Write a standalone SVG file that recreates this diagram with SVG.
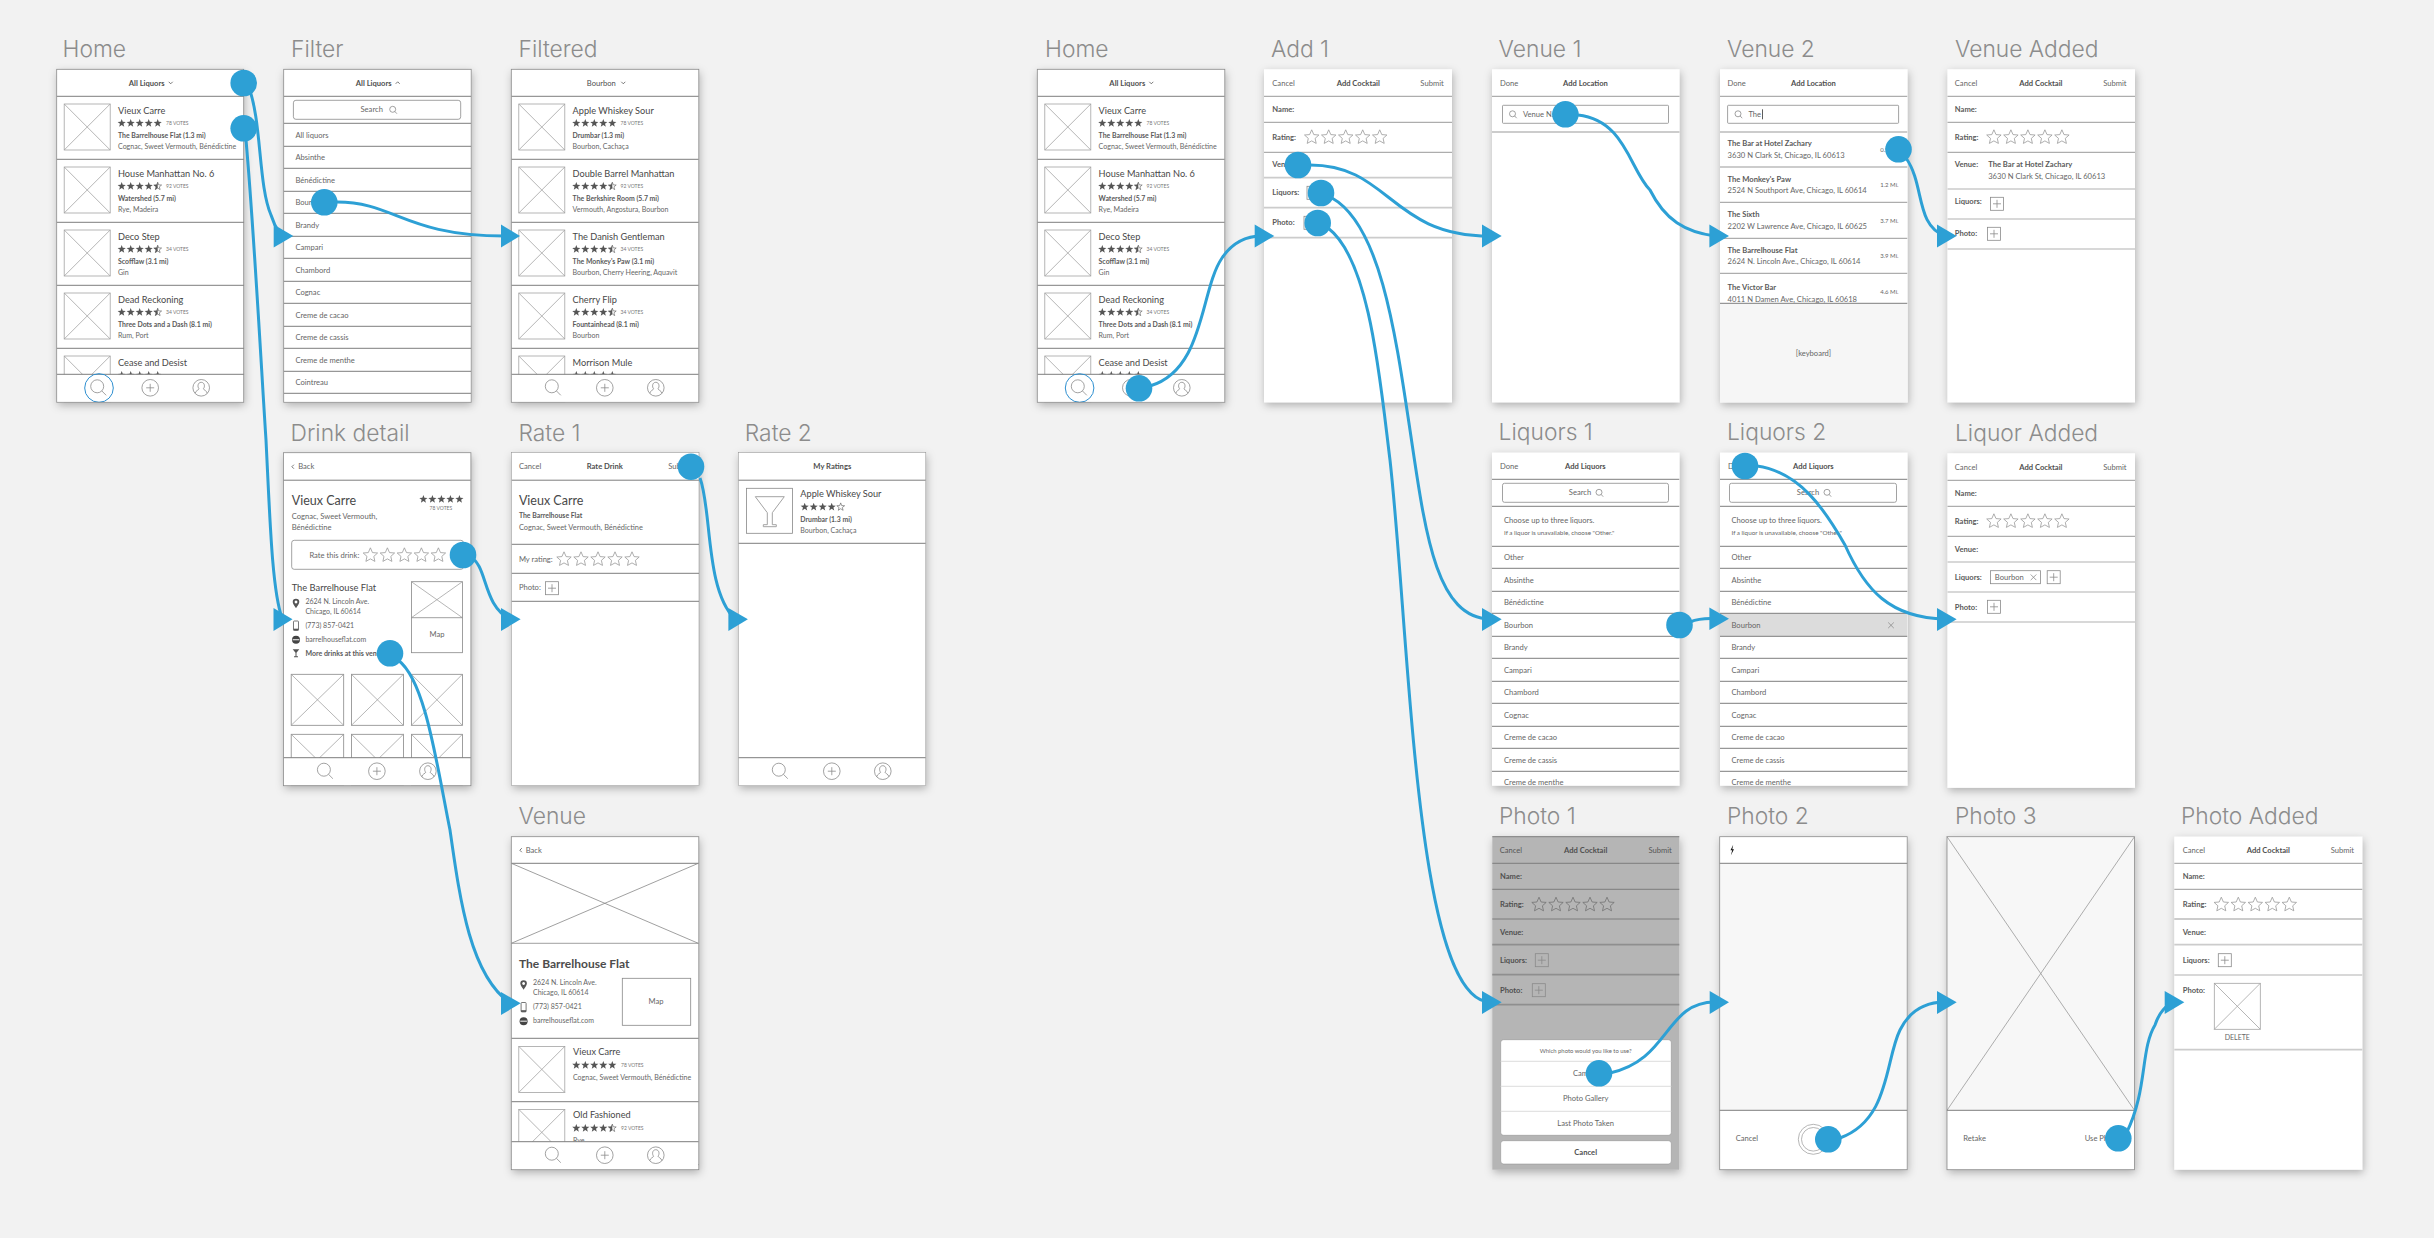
<svg xmlns="http://www.w3.org/2000/svg" width="2434" height="1238" viewBox="0 0 2434 1238">
<style>
text{font-family:"Lato","Liberation Sans",sans-serif;fill:#666;font-size:7.6px}
.T{font-family:"Inter","Liberation Sans",sans-serif;font-weight:300;font-size:22.8px;fill:#8c8c8c}
.h{font-size:9.2px;fill:#484848}
.hl{font-size:12.5px;fill:#484848}
.b{font-weight:700;fill:#5a5a5a}
.r{font-weight:700;fill:#5a5a5a;font-size:6.9px}
.c{font-size:7.05px}
.v{font-size:5px;fill:#777}
.m{text-anchor:middle}
.e{text-anchor:end}
.n{font-weight:700;fill:#4f4f4f;text-anchor:middle}
.a{font-size:7px}
.d{font-size:6px;text-anchor:end}
.l{stroke:#7d7d7d;stroke-width:1;fill:none}
.f{stroke:#999;stroke-width:1;fill:none}
.k{stroke:#ccc;stroke-width:1.7;fill:none}
.g{stroke:#a3a3a3;stroke-width:.8;fill:none}
.gd{stroke:#888;stroke-width:.8;fill:none}
.i{stroke:#8a8a8a;stroke-width:.8;fill:none}
.chev{stroke:#555;stroke-width:.8;fill:none}
.sc{fill:#fff;filter:url(#sh)}
.bd{fill:none;stroke:#8a8a8a;stroke-width:.8}
#conn path{fill:none;stroke:#2da0d5;stroke-width:3}
#conn circle,#conn polygon{fill:#2da0d5}
</style>
<defs>
<filter id="sh" x="-10%" y="-10%" width="120%" height="120%"><feDropShadow dx="1" dy="3" stdDeviation="4" flood-color="#000" flood-opacity=".28"/></filter>
<clipPath id="cp"><rect width="187.5" height="333.5"/></clipPath>
<g id="ph"><rect class="g" width="46" height="46"/><path class="g" d="M0 0L46 46M46 0L0 46"/></g>
<polygon id="s" fill="#555" points="0,-4.3 1.06,-1.46 4.09,-1.33 1.72,.56 2.53,3.48 0,1.81 -2.53,3.48 -1.72,.56 -4.09,-1.33 -1.06,-1.46"/>
<polygon id="so" fill="none" stroke="#555" stroke-width=".6" points="0,-4.1 1,-1.4 3.9,-1.27 1.64,.53 2.41,3.3 0,1.72 -2.41,3.3 -1.64,.53 -3.9,-1.27 -1,-1.4"/>
<path id="sh2" fill="#555" d="M0-4.3V1.81L-2.53 3.48-1.72.56-4.09-1.33-1.06-1.46Z"/>
<g id="st5"><use href="#s"/><use href="#s" x="9"/><use href="#s" x="18"/><use href="#s" x="27"/><use href="#s" x="36"/></g>
<g id="st45"><use href="#s"/><use href="#s" x="9"/><use href="#s" x="18"/><use href="#s" x="27"/><use href="#so" x="36"/><use href="#sh2" x="36"/></g>
<polygon id="hs" fill="none" stroke-width=".8" points="0,-7.5 2.1,-2.7 7.2,-2.3 3.4,1.1 4.5,6.1 0,3.6 -4.5,6.1 -3.4,1.1 -7.2,-2.3 -2.1,-2.7"/>
<g id="hs5" stroke="#999"><use href="#hs"/><use href="#hs" x="17"/><use href="#hs" x="34"/><use href="#hs" x="51"/><use href="#hs" x="68"/></g>
<g id="hs5d" stroke="#727272"><use href="#hs"/><use href="#hs" x="17"/><use href="#hs" x="34"/><use href="#hs" x="51"/><use href="#hs" x="68"/></g>
<g id="r"><use href="#ph" x="7.5" y="7.7"/><path class="l" d="M0 63H187.5"/></g>
<g id="ms"><circle class="i" r="6.5"/><path class="i" d="M4.6 4.6L9 9"/></g>
<g id="ms2"><circle class="i" r="3"/><path class="i" d="M2.1 2.1L4.2 4.4"/></g>
<g id="mp"><circle class="i" r="8.3"/><path class="i" d="M-4 0H4M0-4V4"/></g>
<g id="mu"><circle class="i" r="8.3"/><path class="i" d="M-6 5.5C-5.5 2.5-2.5 2.5-2.2 1C-4-1-3.5-5.5 0-5.5S4-1 2.2 1C2.5 2.5 5.5 2.5 6 5.5"/></g>
<g id="tab"><rect y="305" width="187" height="28" fill="#fff"/><path class="l" d="M0 305H187.5"/><use href="#ms" x="40.5" y="317"/><use href="#mp" x="93.5" y="318.5"/><use href="#mu" x="144.5" y="318.5"/></g>
<g id="pb"><rect class="i" width="13" height="13"/><path class="i" d="M2.5 6.5H10.5M6.5 2.5V10.5"/></g>
<path id="pin" fill="#555" fill-rule="evenodd" d="M0-4.5A3.3 3.3 0 0 1 3.3-1.2C3.3 1 1 3 0 5C-1 3-3.300 1-3.300-1.200A3.300 3.300 0 0 1 0-4.500ZM0-2.600A1.400 1.400 0 1 0 .01-2.600Z"/>
<g id="phn"><rect x="-2.5" y="-4.7" width="5" height="9.4" rx=".8" fill="none" stroke="#555" stroke-width=".8"/><rect x="-2.5" y="3" width="5" height="1.7" fill="#555"/></g>
<g id="glb"><circle r="4" fill="#444"/><rect x="-3.3" y="-.6" width="6.6" height="1.2" fill="#ddd"/></g>
<path id="gls" fill="#555" d="M-3.3-4H3.3L.5-.5V3H2V4H-2V3H-.5V-.5Z"/>
<path id="dn" class="chev" d="M0 0L2 2 4 0"/>
<path id="xx" class="i" d="M-2.8-2.8L2.8 2.8M2.8-2.8L-2.8 2.8"/>
</defs>
<rect width="2434" height="1238" fill="#f2f2f2"/>

<g id="home-1"><text class="T" x="62.5" y="56.5">Home</text><g transform="translate(56.7,69.3)"><rect class="sc" width="187" height="333"/><g clip-path="url(#cp)">
<text class="n" x="90" y="16.5">All Liquors</text><use href="#dn" x="112" y="12.5"/><path class="l" d="M0 27H187.5"/>
<g transform="translate(0,27)"><use href="#r"/><text class="h" x="61.3" y="17.7">Vieux Carre</text><use href="#st5" x="65" y="27"/><text class="v" x="109.3" y="28.6">78 VOTES</text><text class="r" x="61.3" y="42">The Barrelhouse Flat (1.3 mi)</text><text class="c" x="61.3" y="53">Cognac, Sweet Vermouth, Bénédictine</text></g>
<g transform="translate(0,90)"><use href="#r"/><text class="h" x="61.3" y="17.7">House Manhattan No. 6</text><use href="#st45" x="65" y="27"/><text class="v" x="109.3" y="28.6">92 VOTES</text><text class="r" x="61.3" y="42">Watershed (5.7 mi)</text><text class="c" x="61.3" y="53">Rye, Madeira</text></g>
<g transform="translate(0,153)"><use href="#r"/><text class="h" x="61.3" y="17.7">Deco Step</text><use href="#st45" x="65" y="27"/><text class="v" x="109.3" y="28.6">34 VOTES</text><text class="r" x="61.3" y="42">Scofflaw (3.1 mi)</text><text class="c" x="61.3" y="53">Gin</text></g>
<g transform="translate(0,216)"><use href="#r"/><text class="h" x="61.3" y="17.7">Dead Reckoning</text><use href="#st45" x="65" y="27"/><text class="v" x="109.3" y="28.6">34 VOTES</text><text class="r" x="61.3" y="42">Three Dots and a Dash (8.1 mi)</text><text class="c" x="61.3" y="53">Rum, Port</text></g>
<g transform="translate(0,279)"><use href="#r"/><text class="h" x="61.3" y="17.7">Cease and Desist</text><use href="#st5" x="65" y="27"/></g>
<use href="#tab"/><circle cx="42.3" cy="318.7" r="14.3" fill="none" stroke="#2d8fd0" stroke-width="1"/></g><rect class="bd" width="187" height="333"/></g></g>

<g id="filter"><text class="T" x="291" y="56.5">Filter</text><g transform="translate(283.7,69.3)"><rect class="sc" width="187.5" height="333"/><g clip-path="url(#cp)">
<text class="n" x="90" y="16.5">All Liquors</text><path class="chev" d="M112 14.5L114 12.5 116 14.5"/><path class="l" d="M0 27H187.5M0 54H187.5M0 77H187.5M0 99H187.5M0 122H187.5M0 144H187.5M0 167H187.5M0 189H187.5M0 212H187.5M0 234H187.5M0 257H187.5M0 279H187.5M0 302H187.5M0 324H187.5"/>
<rect class="i" x="9.7" y="31" width="167.3" height="19" rx="2.5"/><text class="m" x="88" y="43">Search</text><use href="#ms2" x="109" y="40"/>
<text x="11.7" y="68.4">All liquors</text><text x="11.7" y="90.9">Absinthe</text><text x="11.7" y="113.4">Bénédictine</text><text x="11.7" y="135.9">Bourbon</text><text x="11.7" y="158.4">Brandy</text><text x="11.7" y="180.9">Campari</text><text x="11.7" y="203.4">Chambord</text><text x="11.7" y="225.9">Cognac</text><text x="11.7" y="248.4">Creme de cacao</text><text x="11.7" y="270.9">Creme de cassis</text><text x="11.7" y="293.4">Creme de menthe</text><text x="11.7" y="315.9">Cointreau</text>
</g><rect class="bd" width="187.5" height="333"/></g></g>

<g id="filtered"><text class="T" x="518.5" y="56.5">Filtered</text><g transform="translate(511.3,69.3)"><rect class="sc" width="187.5" height="333"/><g clip-path="url(#cp)">
<text class="n" x="90" y="16.5" style="font-weight:400">Bourbon</text><use href="#dn" x="110" y="12.5"/><path class="l" d="M0 27H187.5"/>
<g transform="translate(0,27)"><use href="#r"/><text class="h" x="61.3" y="17.7">Apple Whiskey Sour</text><use href="#st5" x="65" y="27"/><text class="v" x="109.3" y="28.6">78 VOTES</text><text class="r" x="61.3" y="42">Drumbar (1.3 mi)</text><text class="c" x="61.3" y="53">Bourbon, Cachaça</text></g>
<g transform="translate(0,90)"><use href="#r"/><text class="h" x="61.3" y="17.7">Double Barrel Manhattan</text><use href="#st45" x="65" y="27"/><text class="v" x="109.3" y="28.6">92 VOTES</text><text class="r" x="61.3" y="42">The Berkshire Room (5.7 mi)</text><text class="c" x="61.3" y="53">Vermouth, Angostura, Bourbon</text></g>
<g transform="translate(0,153)"><use href="#r"/><text class="h" x="61.3" y="17.7">The Danish Gentleman</text><use href="#st45" x="65" y="27"/><text class="v" x="109.3" y="28.6">34 VOTES</text><text class="r" x="61.3" y="42">The Monkey's Paw (3.1 mi)</text><text class="c" x="61.3" y="53">Bourbon, Cherry Heering, Aquavit</text></g>
<g transform="translate(0,216)"><use href="#r"/><text class="h" x="61.3" y="17.7">Cherry Flip</text><use href="#st45" x="65" y="27"/><text class="v" x="109.3" y="28.6">34 VOTES</text><text class="r" x="61.3" y="42">Fountainhead (8.1 mi)</text><text class="c" x="61.3" y="53">Bourbon</text></g>
<g transform="translate(0,279)"><use href="#r"/><text class="h" x="61.3" y="17.7">Morrison Mule</text><use href="#st5" x="65" y="27"/></g>
<use href="#tab"/></g><rect class="bd" width="187.5" height="333"/></g></g>

<g id="drink-detail"><text class="T" x="290.5" y="440.5">Drink detail</text><g transform="translate(283.4,452.7)"><rect class="sc" width="187.5" height="333"/><g clip-path="url(#cp)">
<path class="chev" d="M10.5 12L8.500 14 10.500 16"/><text x="14.8" y="16.6">Back</text><path class="l" d="M0 27.5H187.5"/>
<text class="hl" x="8.3" y="52.3">Vieux Carre</text><use href="#st5" x="140" y="46.6"/><text class="v m" x="157.5" y="57.7">78 VOTES</text>
<text class="c" x="8.3" y="66" style="font-size:7.6px">Cognac, Sweet Vermouth,</text><text x="8.3" y="77">Bénédictine</text>
<rect class="i" x="8.3" y="87.6" width="171.7" height="29" rx="2.5"/><text x="26" y="105">Rate this drink:</text><use href="#hs5" x="87" y="102.6"/>
<text style="font-size:9.3px;fill:#484848" x="8.3" y="138.3">The Barrelhouse Flat</text>
<use href="#pin" x="12.6" y="150.5"/><text class="a" x="22" y="151">2624 N. Lincoln Ave.</text><text class="a" x="22" y="161">Chicago, IL 60614</text>
<use href="#phn" x="12.6" y="173"/><text class="a" x="22" y="175">(773) 857-0421</text>
<use href="#glb" x="12.6" y="187"/><text class="a" x="22" y="189">barrelhouseflat.com</text>
<use href="#gls" x="12.6" y="200.6"/><text class="b a" x="22" y="203">More drinks at this venue</text>
<rect class="gd" x="128" y="129" width="51" height="71"/><path class="g" d="M128 129L179 165M179 129L128 165"/><path class="gd" d="M128 165H179"/><text class="m" x="153.6" y="184.6">Map</text>
<g id="dg"><rect class="gd" x="7.8" y="221.6" width="52.5" height="51"/><path class="g" d="M7.8 221.6L60.3 272.6M60.3 221.600L7.800 272.600"/><rect class="gd" x="68" y="221.6" width="52" height="51"/><path class="g" d="M68 221.6L120 272.6M120 221.6L68 272.6"/><rect class="gd" x="128" y="221.6" width="51" height="51"/><path class="g" d="M128 221.6L179 272.6M179 221.6L128 272.600"/></g>
<use href="#dg" y="60"/>
<use href="#tab"/></g><rect class="bd" width="187.5" height="333"/></g></g>

<g id="rate-1"><text class="T" x="518.5" y="440.5">Rate 1</text><g transform="translate(511.5,452.7)"><rect class="sc" width="187.5" height="333"/><g clip-path="url(#cp)">
<text x="7.4" y="16.6">Cancel</text><text class="n" x="93.3" y="16.6">Rate Drink</text><text class="e" x="180" y="16.6">Submit</text><path class="l" d="M0 27.5H187.5"/>
<text class="hl" x="7.4" y="52.3">Vieux Carre</text><text class="r" x="7.4" y="65.6">The Barrelhouse Flat</text><text x="7.4" y="77.6" style="font-size:7.4px">Cognac, Sweet Vermouth, Bénédictine</text><path class="l" d="M0 91.6H187.5M0 120.600H187.5M0 148.600H187.5"/>
<text x="7.4" y="109">My rating:</text><use href="#hs5" x="52.5" y="106.6"/><text x="7.4" y="137.3">Photo:</text><use href="#pb" x="34" y="129"/>
</g><rect class="bd" style="stroke-width:.5" width="187.5" height="333"/></g></g>

<g id="rate-2"><text class="T" x="744.8" y="440.5">Rate 2</text><g transform="translate(738.3,452.7)"><rect class="sc" width="187.5" height="333"/><g clip-path="url(#cp)">
<text class="n" x="94" y="16.6">My Ratings</text><path class="l" d="M0 27.5H187.5M0 90.6H187.5"/>
<rect class="gd" x="8.3" y="35.6" width="46" height="45"/><path class="g" style="stroke-width:1" d="M17 44H46L34 60V72H38V74H25V72H29V60Z"/>
<text class="h" x="62" y="44.3">Apple Whiskey Sour</text><use href="#s" x="66.4" y="54.3"/><use href="#s" x="75.4" y="54.3"/><use href="#s" x="84.4" y="54.3"/><use href="#s" x="93.4" y="54.3"/><use href="#so" x="102.4" y="54.3"/>
<text class="r" x="62" y="69">Drumbar (1.3 mi)</text><text class="c" x="62" y="80">Bourbon, Cachaça</text>
<use href="#tab"/></g><rect class="bd" style="stroke-width:.5" width="187.5" height="333"/></g></g>

<g id="venue"><text class="T" x="518.5" y="824">Venue</text><g transform="translate(511.3,836.7)"><rect class="sc" width="187.5" height="333"/><g clip-path="url(#cp)">
<path class="chev" d="M10.5 11.5L8.5 13.5 10.5 15.5"/><text x="14.4" y="16">Back</text><path class="l" d="M0 26.6H187.5"/>
<path class="gd" d="M0 26.6L187 106.6M187 26.6L0 106.6M0 106.6H187.5"/>
<text style="font-size:12px;font-weight:700;fill:#4c4c4c" x="7.7" y="131">The Barrelhouse Flat</text>
<use href="#pin" x="12.3" y="148"/><text class="a" x="21.7" y="148.6">2624 N. Lincoln Ave.</text><text class="a" x="21.7" y="158.6">Chicago, IL 60614</text>
<use href="#phn" x="12.3" y="170.5"/><text class="a" x="21.7" y="172.6">(773) 857-0421</text>
<use href="#glb" x="12.3" y="184.5"/><text class="a" x="21.7" y="186.6">barrelhouseflat.com</text>
<rect class="gd" x="111" y="141.6" width="68.4" height="47"/><text class="m" x="144.7" y="167">Map</text>
<path class="l" d="M0 201.6H187.5"/>
<g transform="translate(0,202)"><use href="#r"/><text class="h" x="61.7" y="16.5">Vieux Carre</text><use href="#st5" x="65" y="26.5"/><text class="v" x="109.7" y="28">78 VOTES</text><text class="c" x="61.7" y="41">Cognac, Sweet Vermouth, Bénédictine</text></g>
<g transform="translate(0,265)"><use href="#r"/><text class="h" x="61.7" y="16.5">Old Fashioned</text><use href="#st45" x="65" y="26.5"/><text class="v" x="109.7" y="28">92 VOTES</text><text class="c" x="61.7" y="41">Rye</text></g>
<use href="#tab"/></g><rect class="bd" width="187.5" height="333"/></g></g>

<g id="home-2"><text class="T" x="1045" y="56.5">Home</text><g transform="translate(1037.3,69.3)"><rect class="sc" width="187.5" height="333"/><g clip-path="url(#cp)">
<text class="n" x="90" y="16.5">All Liquors</text><use href="#dn" x="112" y="12.5"/><path class="l" d="M0 27H187.5"/>
<g transform="translate(0,27)"><use href="#r"/><text class="h" x="61.3" y="17.7">Vieux Carre</text><use href="#st5" x="65" y="27"/><text class="v" x="109.3" y="28.6">78 VOTES</text><text class="r" x="61.3" y="42">The Barrelhouse Flat (1.3 mi)</text><text class="c" x="61.3" y="53">Cognac, Sweet Vermouth, Bénédictine</text></g>
<g transform="translate(0,90)"><use href="#r"/><text class="h" x="61.3" y="17.7">House Manhattan No. 6</text><use href="#st45" x="65" y="27"/><text class="v" x="109.3" y="28.6">92 VOTES</text><text class="r" x="61.3" y="42">Watershed (5.7 mi)</text><text class="c" x="61.3" y="53">Rye, Madeira</text></g>
<g transform="translate(0,153)"><use href="#r"/><text class="h" x="61.3" y="17.7">Deco Step</text><use href="#st45" x="65" y="27"/><text class="v" x="109.3" y="28.6">34 VOTES</text><text class="r" x="61.3" y="42">Scofflaw (3.1 mi)</text><text class="c" x="61.3" y="53">Gin</text></g>
<g transform="translate(0,216)"><use href="#r"/><text class="h" x="61.3" y="17.7">Dead Reckoning</text><use href="#st45" x="65" y="27"/><text class="v" x="109.3" y="28.6">34 VOTES</text><text class="r" x="61.3" y="42">Three Dots and a Dash (8.1 mi)</text><text class="c" x="61.3" y="53">Rum, Port</text></g>
<g transform="translate(0,279)"><use href="#r"/><text class="h" x="61.3" y="17.7">Cease and Desist</text><use href="#st5" x="65" y="27"/></g>
<use href="#tab"/><circle cx="42.3" cy="318.7" r="14.3" fill="none" stroke="#2d8fd0" stroke-width="1"/></g><rect class="bd" width="187.5" height="333"/></g></g>

<g id="add-1"><text class="T" x="1271" y="56.5">Add 1</text><g transform="translate(1264,69.3)"><rect class="sc" width="188" height="333"/>
<text x="8.3" y="16.4">Cancel</text><text class="n" x="94.3" y="16.4">Add Cocktail</text><text class="e" x="179.7" y="16.4">Submit</text><path class="f" d="M0 27H188M0 53H188M0 83H188"/><path class="k" d="M0 108.4H188M0 138.4H188M0 168.4H188"/>
<text class="b" x="8.3" y="42.7">Name:</text><text class="b" x="8.3" y="70.7">Rating:</text><use href="#hs5" x="47.7" y="68"/><text class="b" x="8.3" y="98">Venue:</text><text class="b" x="8.3" y="126">Liquors:</text><use href="#pb" x="43" y="117"/><text class="b" x="8.3" y="156">Photo:</text><use href="#pb" x="40" y="147"/>
</g></g>

<g id="venue-1"><text class="T" x="1498.6" y="56.5">Venue 1</text><g transform="translate(1492,69.3)"><rect class="sc" width="187.5" height="333"/>
<text x="8" y="16.4">Done</text><text class="n" x="93.4" y="16.4">Add Location</text><path class="f" d="M0 27H187.5"/><rect class="i" x="10.5" y="36" width="166" height="18" rx=".8"/><use href="#ms2" x="20.5" y="44.5"/><text x="31" y="47.7">Venue Name</text><path class="k" style="stroke:#bbb" d="M0 62.7H187.5"/>
</g></g>

<g id="venue-2"><text class="T" x="1727" y="56.5">Venue 2</text><g transform="translate(1720,69.3)"><rect class="sc" width="187.5" height="333"/><g clip-path="url(#cp)">
<text x="7.6" y="16.4">Done</text><text class="n" x="93.4" y="16.4">Add Location</text><path class="f" d="M0 27H187.5"/><rect class="i" x="7.6" y="36" width="171" height="18" rx=".8"/><use href="#ms2" x="18" y="44.5"/><text x="28.4" y="47.7">The</text><path class="i" d="M42.5 40V50" style="stroke:#333"/><path class="f" d="M0 62.7H187.5M0 97.7H187.5M0 133H187.5M0 169H187.5M0 204H187.5"/>
<text class="b" x="7.6" y="77">The Bar at Hotel Zachary</text><text x="7.6" y="88.4">3630 N Clark St, Chicago, IL 60613</text><text class="d" x="178.5" y="82.4">0.7 Mi.</text>
<text class="b" x="7.6" y="112.7">The Monkey's Paw</text><text x="7.6" y="124">2524 N Southport Ave, Chicago, IL 60614</text><text class="d" x="178.5" y="117.7">1.2 Mi.</text>
<text class="b" x="7.6" y="148">The Sixth</text><text x="7.6" y="159.4">2202 W Lawrence Ave, Chicago, IL 60625</text><text class="d" x="178.5" y="153.4">3.7 Mi.</text>
<text class="b" x="7.6" y="183.4">The Barrelhouse Flat</text><text x="7.6" y="195">2624 N. Lincoln Ave., Chicago, IL 60614</text><text class="d" x="178.5" y="189">3.9 Mi.</text>
<text class="b" x="7.6" y="221">The Victor Bar</text><text x="7.6" y="232.4">4011 N Damen Ave, Chicago, IL 60618</text><text class="d" x="178.5" y="224.7">4.6 Mi.</text>
<rect y="234" width="187.5" height="99" fill="#f6f6f6"/><path class="l" d="M0 234H187.5"/><text class="m" x="93.5" y="287">[keyboard]</text>
</g></g></g>

<g id="venue-added"><text class="T" x="1955" y="56.5">Venue Added</text><g transform="translate(1947.5,69.3)"><rect class="sc" width="187.5" height="333"/>
<text x="7.3" y="16.4">Cancel</text><text class="n" x="93.4" y="16.4">Add Cocktail</text><text class="e" x="179" y="16.4">Submit</text><path class="f" d="M0 27H187.5M0 53H187.5M0 83H187.5"/><path class="k" d="M0 119.7H187.5M0 149.7H187.5M0 179.7H187.5"/>
<text class="b" x="7.3" y="42.7">Name:</text><text class="b" x="7.3" y="70.7">Rating:</text><use href="#hs5" x="46.4" y="68"/><text class="b" x="7.3" y="98">Venue:</text><text class="b" x="40.7" y="98">The Bar at Hotel Zachary</text><text x="40.7" y="109.7">3630 N Clark St, Chicago, IL 60613</text><text class="b" x="7.3" y="135">Liquors:</text><use href="#pb" x="43" y="128"/><text class="b" x="7.3" y="167">Photo:</text><use href="#pb" x="40" y="158"/>
</g></g>

<g id="liquors-1"><text class="T" x="1498.6" y="439.5">Liquors 1</text><g transform="translate(1492,452.7)"><rect class="sc" width="187.5" height="333"/><g clip-path="url(#cp)">
<text x="8" y="16">Done</text><text class="n" x="93.4" y="16">Add Liquors</text><rect class="i" x="10.5" y="30.6" width="166" height="19" rx="2"/><text class="m" x="88" y="42.6">Search</text><use href="#ms2" x="107" y="39.6"/>
<path class="l" d="M0 26.6H187.5M0 53.6H187.5M0 93.6H187.5M0 115.6H187.5M0 138.6H187.5M0 160.6H187.5M0 183.6H187.5M0 205.6H187.5M0 228.6H187.5M0 250.6H187.5M0 273.6H187.5M0 295.6H187.5M0 318.6H187.5"/>
<text x="12" y="70.6">Choose up to three liquors.</text><text style="font-size:6.3px" x="12" y="82.6">If a liquor is unavailable, choose "Other."</text>
<text x="12" y="107.6">Other</text><text x="12" y="130.1">Absinthe</text><text x="12" y="152.6">Bénédictine</text><text x="12" y="175.1">Bourbon</text><text x="12" y="197.6">Brandy</text><text x="12" y="220.1">Campari</text><text x="12" y="242.6">Chambord</text><text x="12" y="265.1">Cognac</text><text x="12" y="287.6">Creme de cacao</text><text x="12" y="310.1">Creme de cassis</text><text x="12" y="332.6">Creme de menthe</text>
</g></g></g>

<g id="liquors-2"><text class="T" x="1727" y="439.5">Liquors 2</text><g transform="translate(1720,452.7)"><rect class="sc" width="187.5" height="333"/><g clip-path="url(#cp)">
<text x="8" y="16">Done</text><text class="n" x="93.4" y="16">Add Liquors</text><rect class="i" x="9.5" y="30.6" width="167" height="19" rx="2"/><text class="m" x="88" y="42.6">Search</text><use href="#ms2" x="107" y="39.6"/>
<rect y="160.6" width="187.5" height="23" fill="#dcdcdc"/><use href="#xx" x="171" y="172.6"/>
<path class="l" d="M0 26.6H187.5M0 53.6H187.5M0 93.6H187.5M0 115.6H187.5M0 138.6H187.5M0 160.6H187.5M0 183.6H187.5M0 205.6H187.5M0 228.6H187.5M0 250.6H187.5M0 273.6H187.5M0 295.6H187.5M0 318.6H187.5"/>
<text x="11.5" y="70.6">Choose up to three liquors.</text><text style="font-size:6.3px" x="11.5" y="82.6">If a liquor is unavailable, choose "Other."</text>
<text x="11.5" y="107.6">Other</text><text x="11.5" y="130.1">Absinthe</text><text x="11.5" y="152.6">Bénédictine</text><text x="11.5" y="175.1">Bourbon</text><text x="11.5" y="197.6">Brandy</text><text x="11.5" y="220.1">Campari</text><text x="11.5" y="242.6">Chambord</text><text x="11.5" y="265.1">Cognac</text><text x="11.5" y="287.6">Creme de cacao</text><text x="11.5" y="310.1">Creme de cassis</text><text x="11.5" y="332.6">Creme de menthe</text>
</g></g></g>

<g id="liquor-added"><text class="T" x="1955" y="440.5">Liquor Added</text><g transform="translate(1947.5,453.3)"><rect class="sc" width="187.5" height="334.5"/>
<text x="7.3" y="16.4">Cancel</text><text class="n" x="93.4" y="16.4">Add Cocktail</text><text class="e" x="179" y="16.4">Submit</text><path class="f" d="M0 27H187.5M0 53H187.5M0 83H187.5"/><path class="k" d="M0 108.7H187.5M0 138.7H187.5M0 168.7H187.5"/>
<text class="b" x="7.3" y="43">Name:</text><text class="b" x="7.3" y="71">Rating:</text><use href="#hs5" x="46.4" y="68"/><text class="b" x="7.3" y="98.4">Venue:</text><text class="b" x="7.3" y="126.4">Liquors:</text><rect class="i" x="43" y="117.4" width="50" height="13"/><text x="47.3" y="126.4">Bourbon</text><use href="#xx" x="86" y="124"/><use href="#pb" x="99.7" y="117.4"/><text class="b" x="7.3" y="156.4">Photo:</text><use href="#pb" x="40" y="147"/>
</g></g>

<g id="photo-1"><text class="T" x="1499" y="824">Photo 1</text><g transform="translate(1492.3,836.7)"><rect class="sc" style="fill:#b5b5b5" width="187" height="333"/>
<text x="7.4" y="16.4" style="fill:#555">Cancel</text><text class="n" x="93.4" y="16.4">Add Cocktail</text><text class="e" style="fill:#555" x="179.5" y="16.4">Submit</text><path class="l" d="M0 0H187M0 26.6H187M0 52.6H187M0 82.3H187"/><path class="k" style="stroke:#8f8f8f" d="M0 108H187M0 138H187M0 168H187"/>
<text class="b" style="fill:#4f4f4f" x="7.7" y="42.6">Name:</text><text class="b" style="fill:#4f4f4f" x="7.7" y="70.6">Rating:</text><use href="#hs5d" x="46.7" y="68"/><text class="b" style="fill:#4f4f4f" x="7.7" y="98">Venue:</text><text class="b" style="fill:#4f4f4f" x="7.7" y="126">Liquors:</text><use href="#pb" x="43" y="117"/><text class="b" style="fill:#4f4f4f" x="7.7" y="156">Photo:</text><use href="#pb" x="40" y="147"/>
<rect x="8.4" y="203" width="170.6" height="95.6" rx="3" fill="#fff" stroke="#888" stroke-width=".5"/><path class="k" style="stroke:#ddd;stroke-width:1" d="M8.4 224.6H179M8.4 249.6H179M8.4 274.6H179"/>
<text class="m" style="font-size:5.9px" x="93.4" y="216.6">Which photo would you like to use?</text><text class="m" x="93.4" y="239.6">Camera</text><text class="m" x="93.4" y="264.6">Photo Gallery</text><text class="m" x="93.4" y="289.6">Last Photo Taken</text>
<rect x="8.4" y="304" width="170.6" height="23.3" rx="3" fill="#fff" stroke="#888" stroke-width=".5"/><text class="n" x="93.4" y="318.6">Cancel</text>
</g></g>

<g id="photo-2"><text class="T" x="1727" y="824">Photo 2</text><g transform="translate(1719.7,836.7)"><rect class="sc" width="187.5" height="333"/>
<rect y="26.6" width="187.5" height="247" fill="#f7f7f7"/><path class="l" d="M0 26.6H187.5M0 273.6H187.5"/><path fill="#111" d="M13.5 8L10.800 13.500H12.500L11.200 18.500L14.300 12.500H12.600Z"/>
<text x="16" y="304.6">Cancel</text><circle class="g" cx="93.6" cy="302.6" r="15"/><circle class="g" cx="93.6" cy="302.6" r="11.8"/>
<rect class="bd" width="187.5" height="333"/></g></g>

<g id="photo-3"><text class="T" x="1955" y="824">Photo 3</text><g transform="translate(1947,836.7)"><rect class="sc" width="187.5" height="333"/>
<rect width="187.5" height="273.6" fill="#f7f7f7"/><path class="g" style="stroke:#999" d="M0 0L187.5 273.6M187.5 0L0 273.6"/><path class="l" d="M0 273.6H187.5"/>
<text x="16.3" y="304.6">Retake</text><text x="137.7" y="304.6">Use Photo</text>
<rect class="bd" width="187.5" height="333"/></g></g>

<g id="photo-added"><text class="T" x="2181" y="824">Photo Added</text><g transform="translate(2174.3,836.7)"><rect class="sc" width="188" height="333"/>
<text x="8.4" y="16.4">Cancel</text><text class="n" x="94" y="16.4">Add Cocktail</text><text class="e" x="179.7" y="16.4">Submit</text><path class="f" d="M0 26.6H188M0 52.6H188M0 82.3H188"/><path class="k" d="M0 108H188M0 138.3H188M0 213H188"/>
<text class="b" x="8.4" y="42.6">Name:</text><text class="b" x="8.4" y="70.6">Rating:</text><use href="#hs5" x="47" y="68"/><text class="b" x="8.4" y="98">Venue:</text><text class="b" x="8.4" y="126">Liquors:</text><use href="#pb" x="44" y="117"/><text class="b" x="8.4" y="156">Photo:</text><use href="#ph" x="40" y="146.6"/><text class="m" style="font-size:7px" x="63" y="203">DELETE</text>
</g></g>

<g id="conn">
<path d="M248 85C262 120 258 185 271 215Q274 225 280 234"/><polygon points="273.7,224.5 293.3,236 273.7,247.5"/><circle cx="243.7" cy="83" r="13.3"/>
<path d="M246 140C254 230 262 380 266 440C270 520 272 590 282 618"/><polygon points="273.5,608 292.5,619.3 273.5,631"/><circle cx="243.7" cy="128.3" r="13.3"/>
<path d="M337 202C395 202 405 236 505 236"/><polygon points="501,224.5 520,236 501,247.5"/><circle cx="324.3" cy="202.3" r="13.3"/>
<path d="M470 557C488 565 482 605 510 619"/><polygon points="501,608 520.6,619.3 501,631"/><circle cx="463" cy="555" r="13.3"/>
<path d="M700 478C712 510 705 590 735 619"/><polygon points="728.4,608 747.9,619.3 728.4,631"/><circle cx="691" cy="466.7" r="13.3"/>
<path d="M398 660C425 680 436 760 450 830C460 900 470 975 510 1003"/><polygon points="501,992 520.7,1003.3 501,1015"/><circle cx="390" cy="653.3" r="13.3"/>
<path d="M1150 386C1205 370 1200 290 1222 258C1232 243 1245 236 1262 236"/><polygon points="1254.7,224.5 1274.3,236 1254.7,247.5"/><circle cx="1139" cy="388.3" r="13.3"/>
<path d="M1310 165C1390 165 1390 236 1490 236"/><polygon points="1482,224.5 1501.7,236 1482,247.5"/><circle cx="1298" cy="165" r="13.3"/>
<path d="M1332 198C1380 225 1395 330 1410 430C1425 530 1435 618 1490 619"/><polygon points="1482,608 1501.7,619.3 1482,631"/><circle cx="1321" cy="193" r="13.3"/>
<path d="M1328 228C1370 260 1380 380 1390 460C1410 640 1415 1000 1490 1002"/><polygon points="1482,991 1501.7,1002.3 1482,1014"/><circle cx="1317.7" cy="223" r="13.3"/>
<path d="M1578 115C1625 120 1630 170 1650 190C1665 220 1685 232 1715 236"/><polygon points="1709.4,224.5 1729,236 1709.4,247.5"/><circle cx="1565.4" cy="114.3" r="13.3"/>
<path d="M1906 158C1925 185 1915 225 1945 236"/><polygon points="1937,224.5 1956.6,236 1937,247.5"/><circle cx="1898.5" cy="149.3" r="13.3"/>
<path d="M1690 622Q1700 618 1715 618.7"/><polygon points="1709.4,607.5 1729,618.7 1709.4,630"/><circle cx="1679.5" cy="625" r="13.3"/>
<path d="M1757 466C1800 472 1825 510 1845 545C1865 590 1890 618 1945 619"/><polygon points="1937,608 1956.6,619.3 1937,631"/><circle cx="1745" cy="466" r="13.3"/>
<path d="M1610 1073C1670 1060 1665 1002 1715 1002"/><polygon points="1709.7,991 1729,1002.3 1709.7,1014"/><circle cx="1599" cy="1073.3" r="13.3"/>
<path d="M1840 1138C1890 1120 1885 1060 1900 1030C1910 1010 1925 1002 1945 1002"/><polygon points="1937,991 1956.7,1002.3 1937,1014"/><circle cx="1828.3" cy="1139.3" r="13.3"/>
<path d="M2126 1134C2148 1090 2140 1050 2155 1025Q2160 1010 2170 1004"/><polygon points="2164.7,991 2184.3,1002.3 2164.7,1014"/><circle cx="2118.3" cy="1138.3" r="13.3"/>
</g>
</svg>
